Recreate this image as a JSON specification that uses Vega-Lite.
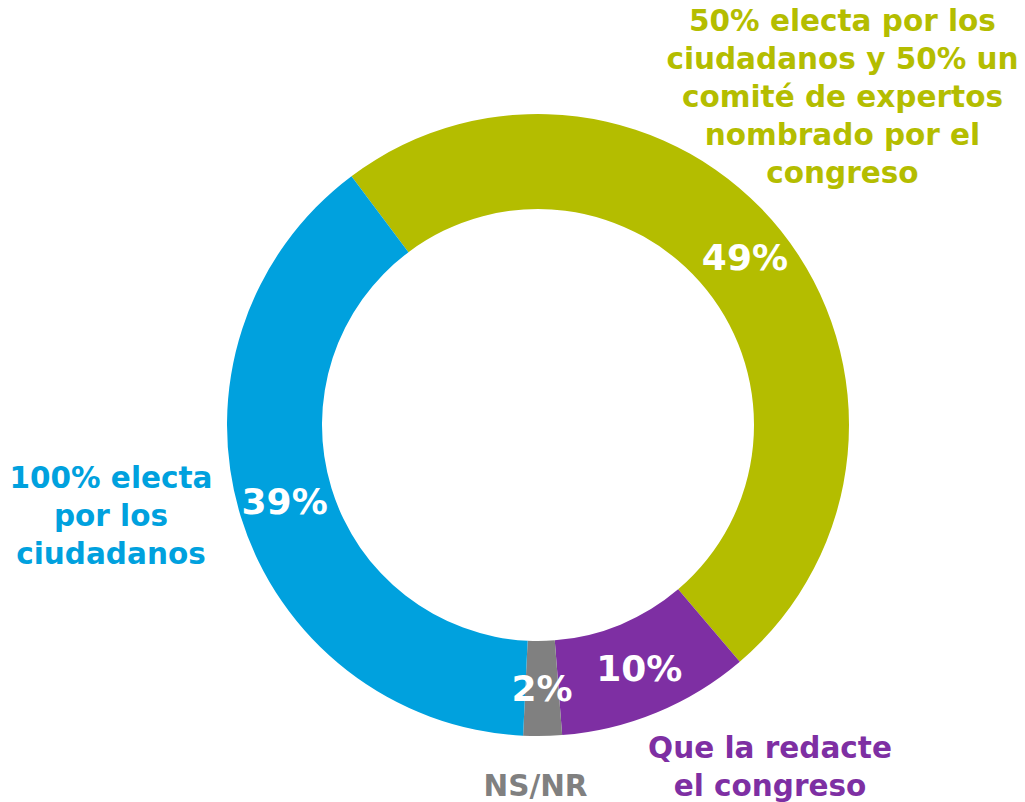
{
  "$schema": "https://vega.github.io/schema/vega-lite/v6.json",
  "width": 974,
  "height": 754,
  "autosize": {"type": "none"},
  "padding": {"left": 51, "top": 48, "right": 0, "bottom": 0},
  "background": "white",
  "config": {"view": {"stroke": null}},
  "data": {
    "values": [
      {"cat": "mixta", "label": "50% electa por los\nciudadanos y 50% un\ncomité de expertos\nnombrado por el\ncongreso", "value": 49, "pct": "49%", "order": 1},
      {"cat": "congreso", "label": "Que la redacte\nel congreso", "value": 10, "pct": "10%", "order": 2},
      {"cat": "nsnr", "label": "NS/NR", "value": 2, "pct": "2%", "order": 3},
      {"cat": "ciudadanos", "label": "100% electa\npor los\nciudadanos", "value": 39, "pct": "39%", "order": 4}
    ]
  },
  "encoding": {
    "theta": {"field": "value", "type": "quantitative", "stack": true, "scale": {"range": [-0.6432, 5.64]}},
    "order": {"field": "order", "type": "quantitative"},
    "color": {
      "field": "cat", "type": "nominal", "legend": null,
      "scale": {"domain": ["mixta", "congreso", "nsnr", "ciudadanos"], "range": ["#B4BD00", "#7E2FA3", "#808080", "#00A1DE"]}
    }
  },
  "layer": [
    {"mark": {"type": "arc", "outerRadius": 311, "innerRadius": 216}},
    {
      "mark": {"type": "text", "radius": 265, "font": "DejaVu Sans", "fontWeight": "bold", "fontSize": 36, "align": "center", "baseline": "middle", "fill": "white"},
      "encoding": {"text": {"field": "pct", "type": "nominal"}, "color": {"value": "white"}}
    },
    {
      "mark": {"type": "text", "radius": 516.3, "thetaOffset": -0.2655, "font": "DejaVu Sans", "fontWeight": "bold", "fontSize": 29.5, "lineHeight": 38, "lineBreak": "\n", "align": "center", "baseline": "top"},
      "encoding": {"text": {"condition": {"test": "datum.cat === 'mixta'", "field": "label"}, "value": ""}}
    },
    {
      "mark": {"type": "text", "radius": 387.2, "thetaOffset": -0.2505, "font": "DejaVu Sans", "fontWeight": "bold", "fontSize": 29.5, "lineHeight": 38, "lineBreak": "\n", "align": "center", "baseline": "top"},
      "encoding": {"text": {"condition": {"test": "datum.cat === 'congreso'", "field": "label"}, "value": ""}}
    },
    {
      "mark": {"type": "text", "radius": 347.7, "thetaOffset": 0.022, "font": "DejaVu Sans", "fontWeight": "bold", "fontSize": 29.5, "lineHeight": 38, "lineBreak": "\n", "align": "center", "baseline": "top"},
      "encoding": {"text": {"condition": {"test": "datum.cat === 'nsnr'", "field": "label"}, "value": ""}}
    },
    {
      "mark": {"type": "text", "radius": 428.9, "thetaOffset": 0.204, "font": "DejaVu Sans", "fontWeight": "bold", "fontSize": 29.5, "lineHeight": 38, "lineBreak": "\n", "align": "center", "baseline": "top"},
      "encoding": {"text": {"condition": {"test": "datum.cat === 'ciudadanos'", "field": "label"}, "value": ""}}
    }
  ]
}
